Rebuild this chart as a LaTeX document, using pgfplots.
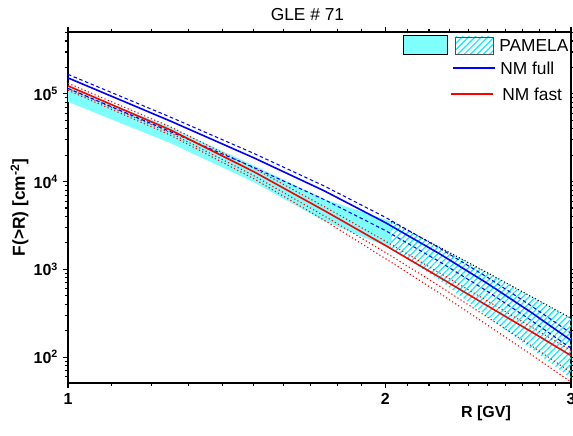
\documentclass[border=0pt]{standalone}
\usepackage{fontspec}
\setmainfont{Liberation Sans}
\usepackage{pgfplots}
\pgfplotsset{compat=1.18}
\usetikzlibrary{patterns.meta}
\definecolor{lcyan}{RGB}{128,255,255}
\definecolor{hcyan}{RGB}{0,240,255}
\begin{document}
\begin{tikzpicture}
\begin{axis}[
  scale only axis, width=377.25pt, height=263.25pt,
  xmode=log, ymode=log, xmin=1, xmax=3, ymin=50.6, ymax=5.07e5,
  log basis x=10,
  xtick={1,2,3}, xticklabels={\textbf{1},\textbf{2},\textbf{3}},
  minor xtick={1.1,1.2,1.3,1.4,1.5,1.6,1.7,1.8,1.9,2.1,2.2,2.3,2.4,2.5,2.6,2.7,2.8,2.9},
  ytick={100,1000,10000,100000},
  yticklabels={\textbf{10}\textsuperscript{\textbf{2}},\textbf{10}\textsuperscript{\textbf{3}},\textbf{10}\textsuperscript{\textbf{4}},\textbf{10}\textsuperscript{\textbf{5}}},
  minor ytick={60,70,80,90,200,300,400,500,600,700,800,900,2000,3000,4000,5000,6000,7000,8000,9000,20000,30000,40000,50000,60000,70000,80000,90000,200000,300000,400000,500000},
  tick align=outside, major tick length=4pt, minor tick length=2.5pt,
  axis line style={line width=1pt},
  every tick/.style={black, line width=0.8pt},
  tick label style={font=\fontsize{12}{14}\selectfont},
  title={GLE \# 71},
  every axis title/.style={at={(axis description cs:0.476,1.05)}, anchor=center, font=\fontsize{13}{15}\selectfont},
  xlabel={\textbf{R [GV]}},
  every axis x label/.style={at={(axis description cs:0.831,-0.0855)}, anchor=center, font=\fontsize{12}{14}\selectfont},
  ylabel={\textbf{F(>R) [cm\textsuperscript{-2}]}},
  every axis y label/.style={at={(axis description cs:-0.0964,0.5)}, rotate=90, anchor=center, font=\fontsize{13}{15}\selectfont},
]
% PAMELA fit band (solid cyan)
\addplot[fill=lcyan, draw=none] coordinates {
 (1,120200) (1.25,41700) (1.5,15280) (1.75,6310) (2.025,3510)
 (2.025,1734) (1.75,3550) (1.5,9860) (1.25,27540) (1,81100)} -- cycle;
% PAMELA extrapolated band (hatched)
\addplot[pattern={Lines[angle=45,distance=3.4pt,line width=0.9pt]}, pattern color=hcyan, draw=none] coordinates {
 (2.025,3510) (2.25,1790) (2.5,912) (2.75,490) (3,277)
 (3,57.7) (2.804,105) (2.513,277) (2.253,750) (2.025,1734)} -- cycle;
\addplot[black, line width=0.8pt, dash pattern=on 0.8pt off 1.6pt] coordinates {
 (2.025,3510) (2.25,1790) (2.5,912) (2.75,490) (3,277)};
% NM fast uncertainties
\addplot[red, line width=0.8pt, dash pattern=on 0.9pt off 1.8pt] coordinates {
 (1,132100) (1.25,42200) (1.5,14260) (1.75,5190) (2,2100) (2.25,914) (2.5,435) (2.75,221) (3,119)};
\addplot[red, line width=0.8pt, dash pattern=on 0.9pt off 1.8pt] coordinates {
 (1,115100) (1.25,35900) (1.5,11720) (1.75,4070) (2,1560) (2.25,647) (2.5,284) (2.75,135) (3,67)};
\addplot[red, line width=0.8pt, dash pattern=on 0.9pt off 1.8pt] coordinates {
 (1,109900) (1.25,33900) (1.5,10810) (1.75,3630) (2,1327) (2.25,538) (2.5,231) (2.75,107) (3,52)};
% NM full uncertainties
\addplot[blue, line width=0.8pt, dash pattern=on 2.6pt off 2pt] coordinates {
 (1,166700) (1.25,54500) (1.5,21000) (1.75,8910) (2,3920) (2.25,1750) (2.5,809) (2.75,384) (3,187)};
\addplot[blue, line width=0.8pt, dash pattern=on 2.6pt off 2pt] coordinates {
 (1,115300) (1.25,37200) (1.5,14520) (1.75,6240) (2,2770) (2.25,1227) (2.5,560) (2.75,262) (3,126)};
% main lines
\addplot[red, line width=1.2pt] coordinates {
 (1,123300) (1.25,38900) (1.5,13000) (1.75,4680) (2,1875) (2.25,815) (2.5,383) (2.75,195) (3,104)};
\addplot[blue, line width=1.2pt] coordinates {
 (1,152000) (1.25,49100) (1.5,18700) (1.75,7850) (2,3410) (2.25,1510) (2.5,689) (2.75,323) (3,155)};
% legend
\draw[fill=lcyan, draw=black, line width=0.6pt] (rel axis cs:0.666,0.937) rectangle (rel axis cs:0.7535,0.991);
\draw[pattern={Lines[angle=45,distance=3.4pt,line width=0.9pt]}, pattern color=hcyan, draw=black!70, line width=0.6pt] (rel axis cs:0.771,0.937) rectangle (rel axis cs:0.845,0.986);
\node[anchor=west, inner sep=0pt, font=\fontsize{13}{15}\selectfont] at (rel axis cs:0.857,0.962) {PAMELA};
\draw[blue, line width=1.2pt] (rel axis cs:0.765,0.897) -- (rel axis cs:0.849,0.897);
\node[anchor=west, inner sep=0pt, font=\fontsize{13}{15}\selectfont] at (rel axis cs:0.859,0.897) {NM full};
\draw[red, line width=1.2pt] (rel axis cs:0.761,0.823) -- (rel axis cs:0.845,0.823);
\node[anchor=west, inner sep=0pt, font=\fontsize{13}{15}\selectfont] at (rel axis cs:0.863,0.823) {NM fast};
\coordinate (bl) at (rel axis cs:0,0);
\coordinate (tr) at (rel axis cs:1,1);
\end{axis}
\pgfresetboundingbox
\path[use as bounding box] ([shift={(-51pt,-39pt)}]bl) rectangle ([shift={(1.5pt,24pt)}]tr);
\end{tikzpicture}
\end{document}
